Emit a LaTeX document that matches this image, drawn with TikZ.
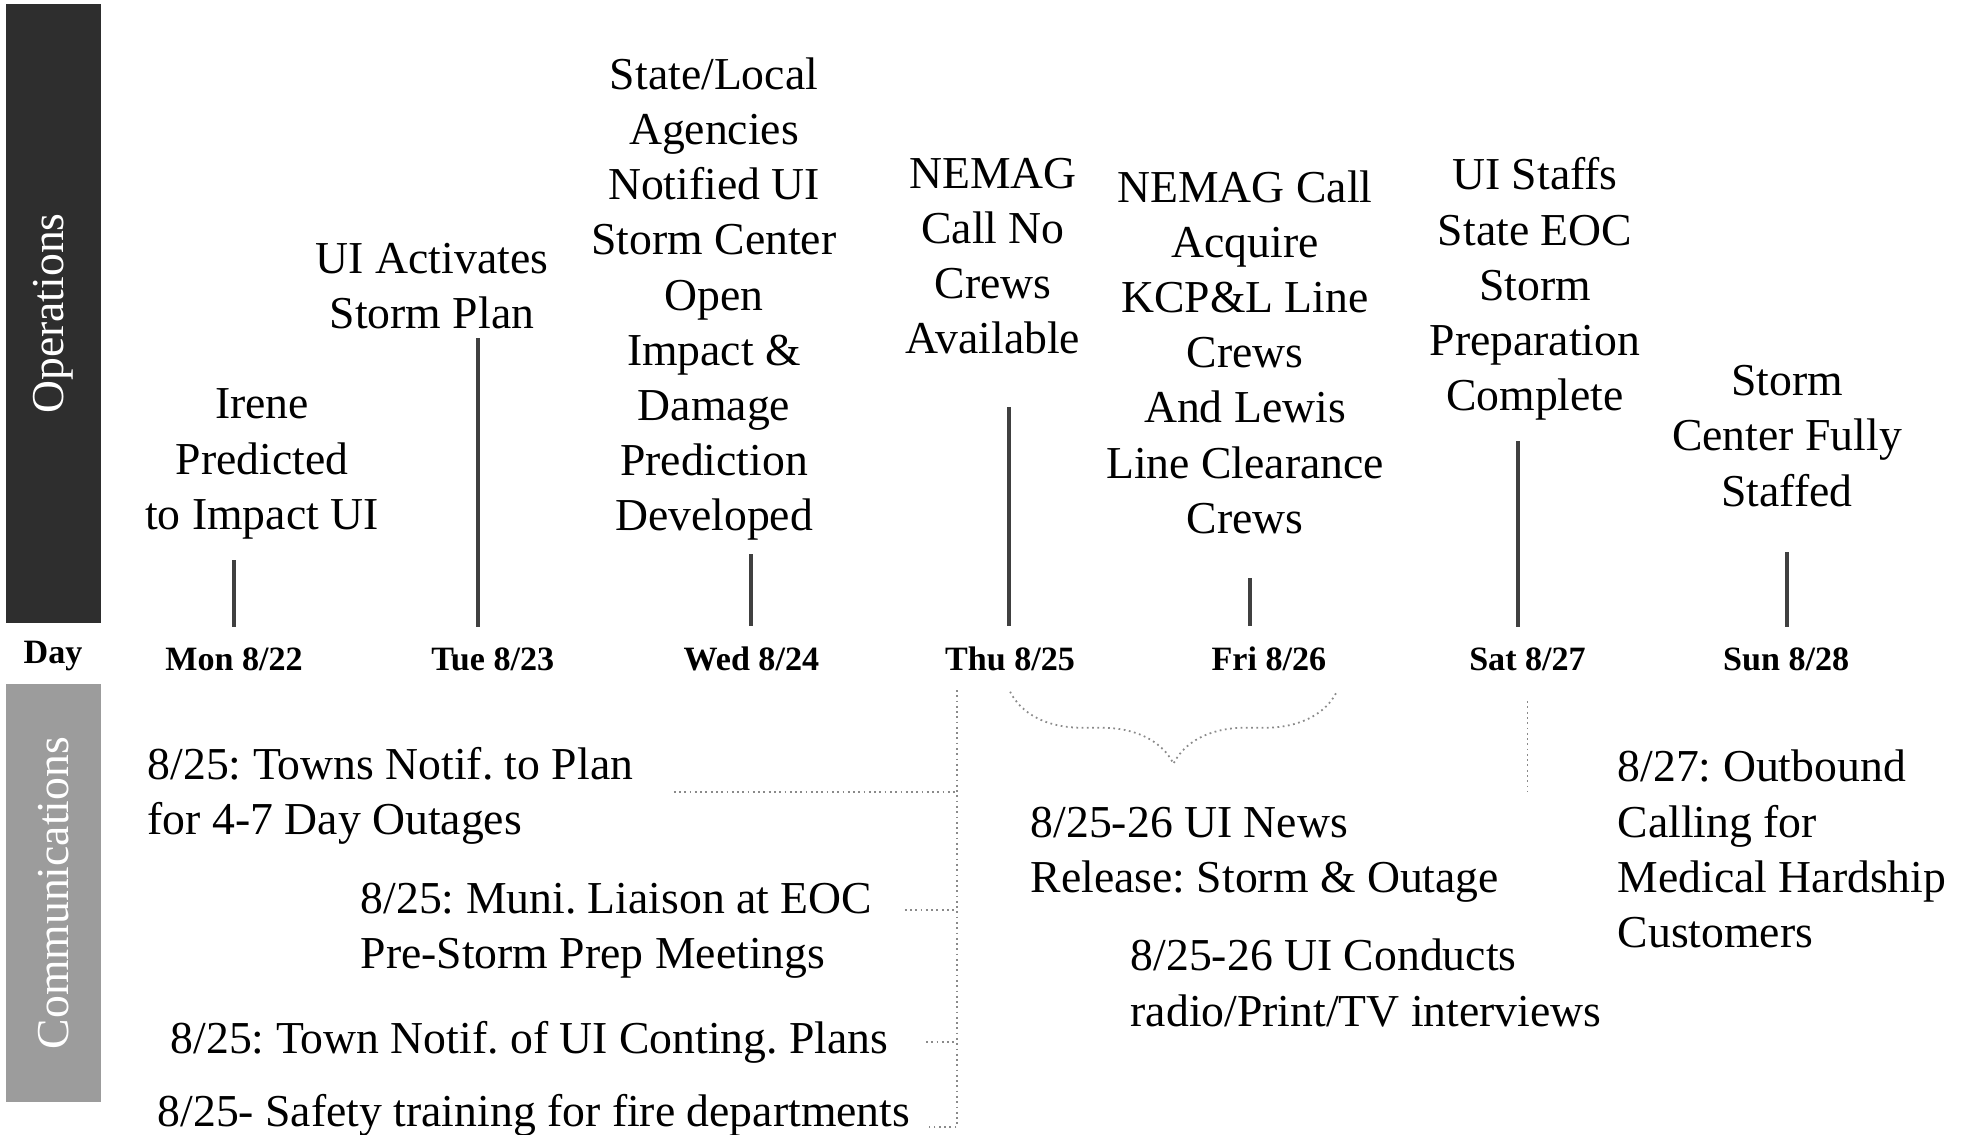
\documentclass[tikz,border=0pt]{standalone}
\usepackage{fontspec}
\setmainfont{Liberation Serif}
\usepackage{tikz}
\usetikzlibrary{positioning, calc, decorations.pathreplacing}

\definecolor{opsgray}{HTML}{2E2E2E}
\definecolor{commgray}{HTML}{9C9C9C}
\definecolor{linkgray}{HTML}{8A8A8A}

\tikzstyle{band} = [rectangle,
rotate=90,
inner sep=0pt,
text=white,
font=\fontsize{13}{15.7}\selectfont]
\tikzstyle{day} = [inner sep=0pt, font=\fontsize{9.7}{11.6}\selectfont\bfseries]
\tikzstyle{event} = [align=center, inner sep=0pt,
font=\fontsize{13}{15.7}\selectfont]
\tikzstyle{note} = [align=left, anchor=west, inner sep=0pt,
font=\fontsize{13}{15.7}\selectfont]
\tikzstyle{stem} = [line width=1pt, draw=black!75, shorten >=0.2cm]
\tikzstyle{link} = [densely dotted, draw=linkgray, line width=0.5pt]

\frenchspacing

\begin{document}
\begin{tikzpicture}[node distance=2.587cm]
\useasboundingbox (0,0) rectangle (19.75,-11.34);

% side bands
\node (ops) [band, fill=opsgray, minimum width=6.19cm, minimum height=0.95cm] at (0.535,-3.135) {Operations};
\node (comm) [band, fill=commgray, minimum width=4.18cm, minimum height=0.95cm] at (0.535,-8.93) {Communications};
\node (dayhd) [day] at (0.53,-6.56) {Day};

% day axis
\node (mon) [day] at (2.34,-6.59) {Mon 8/22};
\node (tue) [day, right of=mon] {Tue 8/23};
\node (wed) [day, right of=tue] {Wed 8/24};
\node (thu) [day, right of=wed] {Thu 8/25};
\node (fri) [day, right of=thu] {Fri 8/26};
\node (sat) [day, right of=fri] {Sat 8/27};
\node (sun) [day, right of=sat] {Sun 8/28};

% operations
\node (ev1) [event] at (2.62,-4.64) {Irene\\Predicted\\to Impact UI};
\node (ev2) [event] at (4.32,-2.86) {UI Activates\\Storm Plan};
\node (ev3) [event] at (7.14,-2.99) {State/Local\\Agencies\\Notified UI\\Storm Center\\Open\\Impact \&\\Damage\\Prediction\\Developed};
\node (ev4) [event] at (9.93,-2.56) {NEMAG\\Call No\\Crews\\Available};
\node (ev5) [event] at (12.45,-3.52) {NEMAG Call\\Acquire\\KCP\&L Line\\Crews\\And Lewis\\Line Clearance\\Crews};
\node (ev6) [event] at (15.35,-2.89) {UI Staffs\\State EOC\\Storm\\Preparation\\Complete};
\node (ev7) [event] at (17.87,-4.36) {Storm\\Center Fully\\Staffed};

\coordinate (t1) at (2.34,-5.60);
\coordinate (t2) at (4.78,-3.38);
\coordinate (t3) at (7.51,-5.54);
\coordinate (t4) at (10.09,-4.07);
\coordinate (t5) at (12.50,-5.78);
\coordinate (t6) at (15.18,-4.41);
\coordinate (t7) at (17.87,-5.52);

\draw [stem] (t1) -- (t1 |- mon.north);
\draw [stem] (t2) -- (t2 |- tue.north);
\draw [stem] (t3) -- (t3 |- wed.north);
\draw [stem] (t4) -- (t4 |- thu.north);
\draw [stem] (t5) -- (t5 |- fri.north);
\draw [stem] (t6) -- (t6 |- sat.north);
\draw [stem] (t7) -- (t7 |- sun.north);

% communications
\node (n1) [note] at (1.47,-7.96) {8/25: Towns Notif. to Plan\\for 4-7 Day Outages};
\node (n2) [note] at (3.60,-9.31) {8/25: Muni. Liaison at EOC\\Pre-Storm Prep Meetings};
\node (n3) [note] at (1.70,-10.42) {8/25: Town Notif. of UI Conting. Plans};
\node (n4) [note] at (1.57,-11.15) {8/25- Safety training for fire departments};
\node (n5) [note] at (10.30,-8.55) {8/25-26 UI News\\Release: Storm \& Outage};
\node (n6) [note] at (11.30,-9.83) {8/25-26 UI Conducts\\radio/Print/TV interviews};
\node (n7) [note] at (16.17,-8.49) {8/27: Outbound\\Calling for\\Medical Hardship\\Customers};

\coordinate (spine) at (9.57,-6.90);
\draw [link] (spine) |- ($(n4.east)+(0.18,-0.12)$);
\draw [link] ($(n1.east)+(0.40,0.04)$) -- ($(n1.east -| spine)+(0,0.04)$);
\draw [link] ($(n2.east)+(0.32,0.21)$) -- ($(n2.east -| spine)+(0,0.21)$);
\draw [link] ($(n3.east)+(0.37,0)$) -- (n3.east -| spine);

\draw [link, decorate, decoration={brace, mirror, amplitude=0.72cm}]
    ([yshift=-0.2cm]thu.south) -- ([xshift=0.1cm, yshift=-0.2cm]fri.south east);
\draw [link] ([yshift=-0.3cm]sat.south) -- ++(0,-0.9);
\end{tikzpicture}
\end{document}
